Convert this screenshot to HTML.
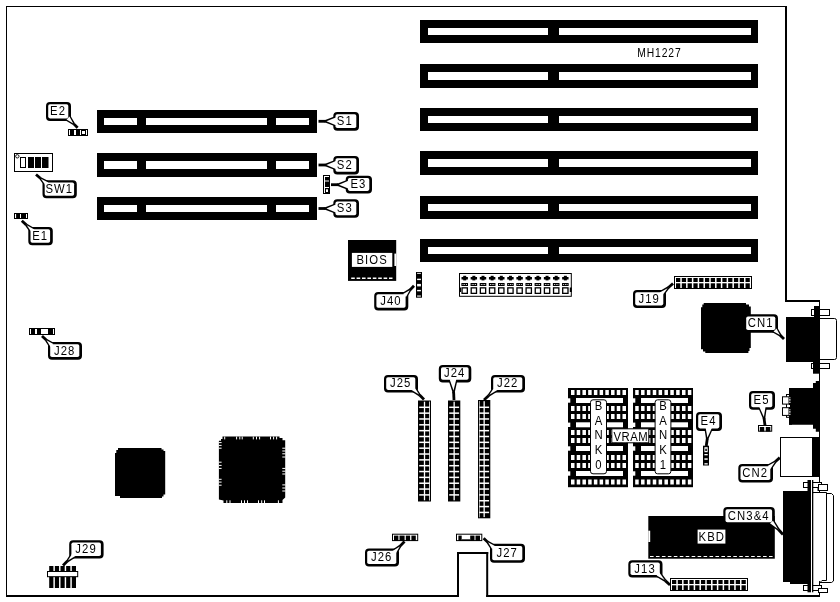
<!DOCTYPE html>
<html><head><meta charset="utf-8"><title>MH1227</title>
<style>
html,body{margin:0;padding:0;background:#fff;}
body{width:840px;height:602px;overflow:hidden;}
svg{display:block;will-change:transform;filter:grayscale(1);}
svg text{font-family:"Liberation Sans",sans-serif;fill:#000;}
</style></head><body>
<svg width="840" height="602" viewBox="0 0 840 602">
<rect x="0" y="0" width="840" height="602" fill="#fff"/>
<rect x="6.00" y="6.00" width="781.00" height="1.00" fill="#000" />
<rect x="6.00" y="6.00" width="1.00" height="591.00" fill="#000" />
<rect x="785.00" y="6.00" width="2.00" height="296.00" fill="#000" />
<rect x="785.00" y="300.00" width="35.00" height="2.00" fill="#000" />
<rect x="819.00" y="300.00" width="1.00" height="297.00" fill="#000" />
<rect x="6.00" y="595.00" width="453.00" height="2.00" fill="#000" />
<rect x="457.00" y="552.00" width="2.00" height="45.00" fill="#000" />
<rect x="457.00" y="552.00" width="31.20" height="2.00" fill="#000" />
<rect x="486.20" y="552.00" width="2.00" height="45.00" fill="#000" />
<rect x="486.20" y="595.00" width="333.80" height="2.00" fill="#000" />
<rect x="420.00" y="20.00" width="338.00" height="23.00" fill="#000" />
<rect x="428.00" y="28.00" width="120.00" height="7.00" fill="#fff" />
<rect x="559.00" y="28.00" width="192.00" height="7.00" fill="#fff" />
<rect x="420.00" y="64.00" width="338.00" height="24.00" fill="#000" />
<rect x="428.00" y="72.00" width="120.00" height="8.00" fill="#fff" />
<rect x="559.00" y="72.00" width="192.00" height="8.00" fill="#fff" />
<rect x="420.00" y="108.00" width="338.00" height="23.00" fill="#000" />
<rect x="428.00" y="116.00" width="120.00" height="7.00" fill="#fff" />
<rect x="559.00" y="116.00" width="192.00" height="7.00" fill="#fff" />
<rect x="420.00" y="151.00" width="338.00" height="24.00" fill="#000" />
<rect x="428.00" y="159.00" width="120.00" height="8.00" fill="#fff" />
<rect x="559.00" y="159.00" width="192.00" height="8.00" fill="#fff" />
<rect x="420.00" y="196.00" width="338.00" height="23.00" fill="#000" />
<rect x="428.00" y="204.00" width="120.00" height="7.00" fill="#fff" />
<rect x="559.00" y="204.00" width="192.00" height="7.00" fill="#fff" />
<rect x="420.00" y="239.00" width="338.00" height="23.00" fill="#000" />
<rect x="428.00" y="247.00" width="120.00" height="7.00" fill="#fff" />
<rect x="559.00" y="247.00" width="192.00" height="7.00" fill="#fff" />
<rect x="97.00" y="110.00" width="220.00" height="23.00" fill="#000" />
<rect x="104.00" y="118.00" width="33.00" height="7.00" fill="#fff" />
<rect x="146.00" y="118.00" width="121.00" height="7.00" fill="#fff" />
<rect x="276.00" y="118.00" width="33.00" height="7.00" fill="#fff" />
<rect x="97.00" y="153.00" width="220.00" height="24.00" fill="#000" />
<rect x="104.00" y="161.00" width="33.00" height="8.00" fill="#fff" />
<rect x="146.00" y="161.00" width="121.00" height="8.00" fill="#fff" />
<rect x="276.00" y="161.00" width="33.00" height="8.00" fill="#fff" />
<rect x="97.00" y="197.00" width="220.00" height="23.00" fill="#000" />
<rect x="104.00" y="205.00" width="33.00" height="7.00" fill="#fff" />
<rect x="146.00" y="205.00" width="121.00" height="7.00" fill="#fff" />
<rect x="276.00" y="205.00" width="33.00" height="7.00" fill="#fff" />
<text transform="translate(658.90 57.00) scale(0.82 1)" x="0.55" y="0" font-size="12.6" letter-spacing="1.1" text-anchor="middle">MH1227</text>
<polygon points="337.00,116.90 337.00,125.70 325.53,121.30" fill="#000" stroke="#000" stroke-width="2.6" stroke-linejoin="miter"/>
<line x1="325.53" y1="121.30" x2="318.50" y2="121.30" stroke="#000" stroke-width="2.8"/>
<rect x="335.50" y="114.20" width="21.30" height="14.30" rx="1.8" fill="#000" stroke="#000" stroke-width="4.4" stroke-linejoin="round"/>
<polygon points="337.00,116.90 337.00,125.70 326.45,121.30" fill="#fff"/>
<rect x="335.50" y="114.20" width="20.80" height="13.90" rx="1.8" fill="#fff"/>
<text transform="translate(344.25 125.05) scale(0.84 1)" x="0.65" y="0" font-size="13.5" letter-spacing="1.3" text-anchor="middle">S1</text>
<polygon points="337.00,160.60 337.00,169.40 325.53,165.00" fill="#000" stroke="#000" stroke-width="2.6" stroke-linejoin="miter"/>
<line x1="325.53" y1="165.00" x2="318.50" y2="165.00" stroke="#000" stroke-width="2.8"/>
<rect x="335.50" y="158.20" width="21.30" height="14.00" rx="1.8" fill="#000" stroke="#000" stroke-width="4.4" stroke-linejoin="round"/>
<polygon points="337.00,160.60 337.00,169.40 326.45,165.00" fill="#fff"/>
<rect x="335.50" y="158.20" width="20.80" height="13.60" rx="1.8" fill="#fff"/>
<text transform="translate(344.25 168.90) scale(0.84 1)" x="0.65" y="0" font-size="13.5" letter-spacing="1.3" text-anchor="middle">S2</text>
<polygon points="337.00,204.10 337.00,212.90 325.53,208.50" fill="#000" stroke="#000" stroke-width="2.6" stroke-linejoin="miter"/>
<line x1="325.53" y1="208.50" x2="318.50" y2="208.50" stroke="#000" stroke-width="2.8"/>
<rect x="335.50" y="201.50" width="21.30" height="14.10" rx="1.8" fill="#000" stroke="#000" stroke-width="4.4" stroke-linejoin="round"/>
<polygon points="337.00,204.10 337.00,212.90 326.45,208.50" fill="#fff"/>
<rect x="335.50" y="201.50" width="20.80" height="13.70" rx="1.8" fill="#fff"/>
<text transform="translate(344.25 212.25) scale(0.84 1)" x="0.65" y="0" font-size="13.5" letter-spacing="1.3" text-anchor="middle">S3</text>
<polygon points="349.50,180.30 349.50,189.10 338.03,184.70" fill="#000" stroke="#000" stroke-width="2.6" stroke-linejoin="miter"/>
<line x1="338.03" y1="184.70" x2="331.00" y2="184.70" stroke="#000" stroke-width="2.8"/>
<rect x="347.90" y="178.00" width="21.90" height="13.30" rx="1.8" fill="#000" stroke="#000" stroke-width="4.4" stroke-linejoin="round"/>
<polygon points="349.50,180.30 349.50,189.10 338.95,184.70" fill="#fff"/>
<rect x="347.90" y="178.00" width="21.40" height="12.90" rx="1.8" fill="#fff"/>
<text transform="translate(357.95 188.35) scale(0.84 1)" x="0.65" y="0" font-size="13.5" letter-spacing="1.3" text-anchor="middle">E3</text>
<rect x="323.00" y="175.00" width="7.00" height="19.00" fill="#000" />
<rect x="324.00" y="176.00" width="1.00" height="17.00" fill="#fff" />
<rect x="324.00" y="176.00" width="5.00" height="1.00" fill="#fff" />
<rect x="325.00" y="180.50" width="4.00" height="1.00" fill="#fff" />
<rect x="325.00" y="187.00" width="4.00" height="1.00" fill="#fff" />
<rect x="326.00" y="189.30" width="2.00" height="2.70" fill="#fff" />
<polygon points="66.57,119.40 69.43,116.60 73.76,123.88" fill="#000" stroke="#000" stroke-width="2.6" stroke-linejoin="miter"/>
<line x1="73.76" y1="123.88" x2="77.60" y2="127.80" stroke="#000" stroke-width="2.8"/>
<rect x="48.20" y="104.20" width="20.60" height="14.60" rx="1.8" fill="#000" stroke="#000" stroke-width="4.4" stroke-linejoin="round"/>
<polygon points="66.57,119.40 69.43,116.60 73.30,123.41" fill="#fff"/>
<rect x="48.20" y="104.20" width="20.10" height="14.20" rx="1.8" fill="#fff"/>
<text transform="translate(57.60 115.20) scale(0.84 1)" x="0.65" y="0" font-size="13.5" letter-spacing="1.3" text-anchor="middle">E2</text>
<rect x="68.00" y="129.00" width="20.00" height="7.00" fill="#000" />
<rect x="69.00" y="130.00" width="1.00" height="5.00" fill="#fff" />
<rect x="74.00" y="130.00" width="2.00" height="5.00" fill="#fff" />
<rect x="80.00" y="130.00" width="1.00" height="5.00" fill="#fff" />
<rect x="86.00" y="130.00" width="1.00" height="5.00" fill="#fff" />
<rect x="82.00" y="131.00" width="3.00" height="3.00" fill="#fff" />
<polygon points="48.31,182.49 45.69,185.51 40.40,178.30" fill="#000" stroke="#000" stroke-width="2.6" stroke-linejoin="miter"/>
<line x1="40.40" y1="178.30" x2="36.00" y2="174.50" stroke="#000" stroke-width="2.8"/>
<rect x="44.70" y="182.50" width="29.90" height="13.60" rx="1.8" fill="#000" stroke="#000" stroke-width="4.4" stroke-linejoin="round"/>
<polygon points="48.31,182.49 45.69,185.51 40.93,178.76" fill="#fff"/>
<rect x="44.70" y="182.50" width="29.40" height="13.20" rx="1.8" fill="#fff"/>
<text transform="translate(58.75 193.00) scale(0.84 1)" x="0.65" y="0" font-size="13.5" letter-spacing="1.3" text-anchor="middle">SW1</text>
<rect x="14.50" y="153.50" width="38.00" height="18.00" fill="#fff" stroke="#000" stroke-width="1"/>
<circle cx="17.3" cy="156.3" r="1.7" fill="#fff" stroke="#000" stroke-width="0.9"/>
<rect x="20.50" y="157.50" width="5.00" height="10.00" fill="#fff" stroke="#000" stroke-width="1"/>
<rect x="28.00" y="157.00" width="6.00" height="11.00" fill="#000" />
<rect x="35.00" y="157.00" width="6.00" height="11.00" fill="#000" />
<rect x="42.00" y="157.00" width="6.50" height="11.00" fill="#000" />
<polygon points="34.35,229.52 31.65,232.48 26.28,224.88" fill="#000" stroke="#000" stroke-width="2.6" stroke-linejoin="miter"/>
<line x1="26.28" y1="224.88" x2="21.80" y2="220.80" stroke="#000" stroke-width="2.8"/>
<rect x="30.50" y="229.20" width="20.10" height="13.90" rx="1.8" fill="#000" stroke="#000" stroke-width="4.4" stroke-linejoin="round"/>
<polygon points="34.35,229.52 31.65,232.48 26.82,225.37" fill="#fff"/>
<rect x="30.50" y="229.20" width="19.60" height="13.50" rx="1.8" fill="#fff"/>
<text transform="translate(39.65 239.85) scale(0.84 1)" x="0.65" y="0" font-size="13.5" letter-spacing="1.3" text-anchor="middle">E1</text>
<rect x="14.00" y="213.00" width="14.00" height="6.00" fill="#000" />
<rect x="15.00" y="214.00" width="1.10" height="4.00" fill="#fff" />
<rect x="20.00" y="214.00" width="1.00" height="4.00" fill="#fff" />
<rect x="26.00" y="214.00" width="1.00" height="4.00" fill="#fff" />
<polygon points="53.38,344.05 50.62,346.95 46.00,339.80" fill="#000" stroke="#000" stroke-width="2.6" stroke-linejoin="miter"/>
<line x1="46.00" y1="339.80" x2="42.00" y2="336.00" stroke="#000" stroke-width="2.8"/>
<rect x="50.20" y="344.20" width="29.60" height="13.30" rx="1.8" fill="#000" stroke="#000" stroke-width="4.4" stroke-linejoin="round"/>
<polygon points="53.38,344.05 50.62,346.95 46.48,340.26" fill="#fff"/>
<rect x="50.20" y="344.20" width="29.10" height="12.90" rx="1.8" fill="#fff"/>
<text transform="translate(64.10 354.55) scale(0.84 1)" x="0.65" y="0" font-size="13.5" letter-spacing="1.3" text-anchor="middle">J28</text>
<rect x="29.00" y="328.00" width="26.00" height="7.00" fill="#000" />
<rect x="30.00" y="329.00" width="1.00" height="5.00" fill="#fff" />
<rect x="35.00" y="329.00" width="2.00" height="5.00" fill="#fff" />
<rect x="41.00" y="329.00" width="7.00" height="5.00" fill="#fff" />
<rect x="53.00" y="329.00" width="1.00" height="5.00" fill="#fff" />
<rect x="348.00" y="240.00" width="48.20" height="40.90" fill="#000" />
<rect x="351.90" y="252.90" width="40.40" height="14.00" fill="#fff" />
<rect x="394.40" y="253.60" width="1.80" height="12.40" fill="#fff" />
<line x1="351.2" y1="278.3" x2="392.5" y2="278.3" stroke="#fff" stroke-width="1.4" stroke-dasharray="3.6 1.8"/>
<text transform="translate(371.60 264.20) scale(0.84 1)" x="0.65" y="0" font-size="13.5" letter-spacing="1.3" text-anchor="middle">BIOS</text>
<polygon points="405.93,296.90 403.07,294.10 410.20,289.68" fill="#000" stroke="#000" stroke-width="2.6" stroke-linejoin="miter"/>
<line x1="410.20" y1="289.68" x2="414.00" y2="285.80" stroke="#000" stroke-width="2.8"/>
<rect x="376.40" y="294.20" width="29.70" height="14.00" rx="1.8" fill="#000" stroke="#000" stroke-width="4.4" stroke-linejoin="round"/>
<polygon points="405.93,296.90 403.07,294.10 409.74,290.15" fill="#fff"/>
<rect x="376.40" y="294.20" width="29.20" height="13.60" rx="1.8" fill="#fff"/>
<text transform="translate(390.35 304.90) scale(0.84 1)" x="0.65" y="0" font-size="13.5" letter-spacing="1.3" text-anchor="middle">J40</text>
<rect x="416.00" y="272.00" width="6.00" height="25.70" fill="#000" />
<rect x="417.10" y="272.90" width="3.80" height="0.90" fill="#fff" />
<rect x="417.10" y="278.70" width="3.80" height="1.40" fill="#fff" />
<rect x="417.10" y="283.90" width="3.80" height="2.50" fill="#fff" />
<rect x="417.10" y="289.90" width="3.80" height="1.40" fill="#fff" />
<rect x="417.10" y="295.50" width="3.80" height="1.10" fill="#fff" />
<rect x="459.50" y="273.50" width="111.80" height="22.80" fill="#fff" stroke="#000" stroke-width="1"/>
<rect x="459.00" y="287.50" width="2.00" height="4.50" fill="#000" />
<rect x="569.80" y="287.50" width="2.00" height="4.50" fill="#000" />
<rect x="461.50" y="277.00" width="6.40" height="2.50" fill="#000" />
<rect x="463.20" y="275.80" width="3.00" height="4.60" fill="#000" />
<rect x="461.40" y="283.00" width="6.60" height="3.00" fill="#000" />
<rect x="462.60" y="284.00" width="0.80" height="1.00" fill="#fff" />
<rect x="464.30" y="284.00" width="0.80" height="1.00" fill="#fff" />
<rect x="466.00" y="284.00" width="0.80" height="1.00" fill="#fff" />
<rect x="462.05" y="287.85" width="5.30" height="5.50" fill="#fff" stroke="#000" stroke-width="1.3"/>
<rect x="470.65" y="277.00" width="6.40" height="2.50" fill="#000" />
<rect x="472.35" y="275.80" width="3.00" height="4.60" fill="#000" />
<rect x="470.55" y="283.00" width="6.60" height="3.00" fill="#000" />
<rect x="471.75" y="284.00" width="0.80" height="1.00" fill="#fff" />
<rect x="473.45" y="284.00" width="0.80" height="1.00" fill="#fff" />
<rect x="475.15" y="284.00" width="0.80" height="1.00" fill="#fff" />
<rect x="471.20" y="287.85" width="5.30" height="5.50" fill="#fff" stroke="#000" stroke-width="1.3"/>
<rect x="479.80" y="277.00" width="6.40" height="2.50" fill="#000" />
<rect x="481.50" y="275.80" width="3.00" height="4.60" fill="#000" />
<rect x="479.70" y="283.00" width="6.60" height="3.00" fill="#000" />
<rect x="480.90" y="284.00" width="0.80" height="1.00" fill="#fff" />
<rect x="482.60" y="284.00" width="0.80" height="1.00" fill="#fff" />
<rect x="484.30" y="284.00" width="0.80" height="1.00" fill="#fff" />
<rect x="480.35" y="287.85" width="5.30" height="5.50" fill="#fff" stroke="#000" stroke-width="1.3"/>
<rect x="488.95" y="277.00" width="6.40" height="2.50" fill="#000" />
<rect x="490.65" y="275.80" width="3.00" height="4.60" fill="#000" />
<rect x="488.85" y="283.00" width="6.60" height="3.00" fill="#000" />
<rect x="490.05" y="284.00" width="0.80" height="1.00" fill="#fff" />
<rect x="491.75" y="284.00" width="0.80" height="1.00" fill="#fff" />
<rect x="493.45" y="284.00" width="0.80" height="1.00" fill="#fff" />
<rect x="489.50" y="287.85" width="5.30" height="5.50" fill="#fff" stroke="#000" stroke-width="1.3"/>
<rect x="498.10" y="277.00" width="6.40" height="2.50" fill="#000" />
<rect x="499.80" y="275.80" width="3.00" height="4.60" fill="#000" />
<rect x="498.00" y="283.00" width="6.60" height="3.00" fill="#000" />
<rect x="499.20" y="284.00" width="0.80" height="1.00" fill="#fff" />
<rect x="500.90" y="284.00" width="0.80" height="1.00" fill="#fff" />
<rect x="502.60" y="284.00" width="0.80" height="1.00" fill="#fff" />
<rect x="498.65" y="287.85" width="5.30" height="5.50" fill="#fff" stroke="#000" stroke-width="1.3"/>
<rect x="507.25" y="277.00" width="6.40" height="2.50" fill="#000" />
<rect x="508.95" y="275.80" width="3.00" height="4.60" fill="#000" />
<rect x="507.15" y="283.00" width="6.60" height="3.00" fill="#000" />
<rect x="508.35" y="284.00" width="0.80" height="1.00" fill="#fff" />
<rect x="510.05" y="284.00" width="0.80" height="1.00" fill="#fff" />
<rect x="511.75" y="284.00" width="0.80" height="1.00" fill="#fff" />
<rect x="507.80" y="287.85" width="5.30" height="5.50" fill="#fff" stroke="#000" stroke-width="1.3"/>
<rect x="516.40" y="277.00" width="6.40" height="2.50" fill="#000" />
<rect x="518.10" y="275.80" width="3.00" height="4.60" fill="#000" />
<rect x="516.30" y="283.00" width="6.60" height="3.00" fill="#000" />
<rect x="517.50" y="284.00" width="0.80" height="1.00" fill="#fff" />
<rect x="519.20" y="284.00" width="0.80" height="1.00" fill="#fff" />
<rect x="520.90" y="284.00" width="0.80" height="1.00" fill="#fff" />
<rect x="516.95" y="287.85" width="5.30" height="5.50" fill="#fff" stroke="#000" stroke-width="1.3"/>
<rect x="525.55" y="277.00" width="6.40" height="2.50" fill="#000" />
<rect x="527.25" y="275.80" width="3.00" height="4.60" fill="#000" />
<rect x="525.45" y="283.00" width="6.60" height="3.00" fill="#000" />
<rect x="526.65" y="284.00" width="0.80" height="1.00" fill="#fff" />
<rect x="528.35" y="284.00" width="0.80" height="1.00" fill="#fff" />
<rect x="530.05" y="284.00" width="0.80" height="1.00" fill="#fff" />
<rect x="526.10" y="287.85" width="5.30" height="5.50" fill="#fff" stroke="#000" stroke-width="1.3"/>
<rect x="534.70" y="277.00" width="6.40" height="2.50" fill="#000" />
<rect x="536.40" y="275.80" width="3.00" height="4.60" fill="#000" />
<rect x="534.60" y="283.00" width="6.60" height="3.00" fill="#000" />
<rect x="535.80" y="284.00" width="0.80" height="1.00" fill="#fff" />
<rect x="537.50" y="284.00" width="0.80" height="1.00" fill="#fff" />
<rect x="539.20" y="284.00" width="0.80" height="1.00" fill="#fff" />
<rect x="535.25" y="287.85" width="5.30" height="5.50" fill="#fff" stroke="#000" stroke-width="1.3"/>
<rect x="543.85" y="277.00" width="6.40" height="2.50" fill="#000" />
<rect x="545.55" y="275.80" width="3.00" height="4.60" fill="#000" />
<rect x="543.75" y="283.00" width="6.60" height="3.00" fill="#000" />
<rect x="544.95" y="284.00" width="0.80" height="1.00" fill="#fff" />
<rect x="546.65" y="284.00" width="0.80" height="1.00" fill="#fff" />
<rect x="548.35" y="284.00" width="0.80" height="1.00" fill="#fff" />
<rect x="544.40" y="287.85" width="5.30" height="5.50" fill="#fff" stroke="#000" stroke-width="1.3"/>
<rect x="553.00" y="277.00" width="6.40" height="2.50" fill="#000" />
<rect x="554.70" y="275.80" width="3.00" height="4.60" fill="#000" />
<rect x="552.90" y="283.00" width="6.60" height="3.00" fill="#000" />
<rect x="554.10" y="284.00" width="0.80" height="1.00" fill="#fff" />
<rect x="555.80" y="284.00" width="0.80" height="1.00" fill="#fff" />
<rect x="557.50" y="284.00" width="0.80" height="1.00" fill="#fff" />
<rect x="553.55" y="287.85" width="5.30" height="5.50" fill="#fff" stroke="#000" stroke-width="1.3"/>
<rect x="562.15" y="277.00" width="6.40" height="2.50" fill="#000" />
<rect x="563.85" y="275.80" width="3.00" height="4.60" fill="#000" />
<rect x="562.05" y="283.00" width="6.60" height="3.00" fill="#000" />
<rect x="563.25" y="284.00" width="0.80" height="1.00" fill="#fff" />
<rect x="564.95" y="284.00" width="0.80" height="1.00" fill="#fff" />
<rect x="566.65" y="284.00" width="0.80" height="1.00" fill="#fff" />
<rect x="562.70" y="287.85" width="5.30" height="5.50" fill="#fff" stroke="#000" stroke-width="1.3"/>
<polygon points="662.32,295.51 659.68,292.49 668.20,287.70" fill="#000" stroke="#000" stroke-width="2.6" stroke-linejoin="miter"/>
<line x1="668.20" y1="287.70" x2="673.00" y2="283.50" stroke="#000" stroke-width="2.8"/>
<rect x="635.20" y="292.20" width="28.60" height="13.60" rx="1.8" fill="#000" stroke="#000" stroke-width="4.4" stroke-linejoin="round"/>
<polygon points="662.32,295.51 659.68,292.49 667.62,288.20" fill="#fff"/>
<rect x="635.20" y="292.20" width="28.10" height="13.20" rx="1.8" fill="#fff"/>
<text transform="translate(648.60 302.70) scale(0.84 1)" x="0.65" y="0" font-size="13.5" letter-spacing="1.3" text-anchor="middle">J19</text>
<rect x="674.50" y="276.50" width="77.00" height="12.00" fill="#fff" stroke="#000" stroke-width="1"/>
<rect x="676.00" y="278.00" width="4.29" height="4.00" fill="#000" />
<rect x="676.00" y="283.30" width="4.29" height="5.70" fill="#000" />
<rect x="681.79" y="278.00" width="4.29" height="4.00" fill="#000" />
<rect x="681.79" y="283.30" width="4.29" height="5.70" fill="#000" />
<rect x="687.58" y="278.00" width="4.29" height="4.00" fill="#000" />
<rect x="687.58" y="283.30" width="4.29" height="5.70" fill="#000" />
<rect x="693.38" y="278.00" width="4.29" height="4.00" fill="#000" />
<rect x="693.38" y="283.30" width="4.29" height="5.70" fill="#000" />
<rect x="699.17" y="278.00" width="4.29" height="4.00" fill="#000" />
<rect x="699.17" y="283.30" width="4.29" height="5.70" fill="#000" />
<rect x="704.96" y="278.00" width="4.29" height="4.00" fill="#000" />
<rect x="704.96" y="283.30" width="4.29" height="5.70" fill="#000" />
<rect x="710.75" y="278.00" width="4.29" height="4.00" fill="#000" />
<rect x="710.75" y="283.30" width="4.29" height="5.70" fill="#000" />
<rect x="716.55" y="278.00" width="4.29" height="4.00" fill="#000" />
<rect x="716.55" y="283.30" width="4.29" height="5.70" fill="#000" />
<rect x="722.34" y="278.00" width="4.29" height="4.00" fill="#000" />
<rect x="722.34" y="283.30" width="4.29" height="5.70" fill="#000" />
<rect x="728.13" y="278.00" width="4.29" height="4.00" fill="#000" />
<rect x="728.13" y="283.30" width="4.29" height="5.70" fill="#000" />
<rect x="733.92" y="278.00" width="4.29" height="4.00" fill="#000" />
<rect x="733.92" y="283.30" width="4.29" height="5.70" fill="#000" />
<rect x="739.72" y="278.00" width="4.29" height="4.00" fill="#000" />
<rect x="739.72" y="283.30" width="4.29" height="5.70" fill="#000" />
<rect x="745.51" y="278.00" width="4.29" height="4.00" fill="#000" />
<rect x="745.51" y="283.30" width="4.29" height="5.70" fill="#000" />
<polygon points="656.65,575.47 659.35,572.53 665.20,580.60" fill="#000" stroke="#000" stroke-width="2.6" stroke-linejoin="miter"/>
<line x1="665.20" y1="580.60" x2="670.00" y2="585.00" stroke="#000" stroke-width="2.8"/>
<rect x="630.50" y="562.50" width="29.80" height="12.90" rx="1.8" fill="#000" stroke="#000" stroke-width="4.4" stroke-linejoin="round"/>
<polygon points="656.65,575.47 659.35,572.53 664.62,580.07" fill="#fff"/>
<rect x="630.50" y="562.50" width="29.30" height="12.50" rx="1.8" fill="#fff"/>
<text transform="translate(644.50 572.65) scale(0.84 1)" x="0.65" y="0" font-size="13.5" letter-spacing="1.3" text-anchor="middle">J13</text>
<rect x="670.50" y="578.50" width="77.00" height="12.00" fill="#fff" stroke="#000" stroke-width="1"/>
<rect x="672.00" y="580.00" width="4.29" height="4.00" fill="#000" />
<rect x="672.00" y="585.30" width="4.29" height="5.70" fill="#000" />
<rect x="677.79" y="580.00" width="4.29" height="4.00" fill="#000" />
<rect x="677.79" y="585.30" width="4.29" height="5.70" fill="#000" />
<rect x="683.58" y="580.00" width="4.29" height="4.00" fill="#000" />
<rect x="683.58" y="585.30" width="4.29" height="5.70" fill="#000" />
<rect x="689.38" y="580.00" width="4.29" height="4.00" fill="#000" />
<rect x="689.38" y="585.30" width="4.29" height="5.70" fill="#000" />
<rect x="695.17" y="580.00" width="4.29" height="4.00" fill="#000" />
<rect x="695.17" y="585.30" width="4.29" height="5.70" fill="#000" />
<rect x="700.96" y="580.00" width="4.29" height="4.00" fill="#000" />
<rect x="700.96" y="585.30" width="4.29" height="5.70" fill="#000" />
<rect x="706.75" y="580.00" width="4.29" height="4.00" fill="#000" />
<rect x="706.75" y="585.30" width="4.29" height="5.70" fill="#000" />
<rect x="712.55" y="580.00" width="4.29" height="4.00" fill="#000" />
<rect x="712.55" y="585.30" width="4.29" height="5.70" fill="#000" />
<rect x="718.34" y="580.00" width="4.29" height="4.00" fill="#000" />
<rect x="718.34" y="585.30" width="4.29" height="5.70" fill="#000" />
<rect x="724.13" y="580.00" width="4.29" height="4.00" fill="#000" />
<rect x="724.13" y="585.30" width="4.29" height="5.70" fill="#000" />
<rect x="729.92" y="580.00" width="4.29" height="4.00" fill="#000" />
<rect x="729.92" y="585.30" width="4.29" height="5.70" fill="#000" />
<rect x="735.72" y="580.00" width="4.29" height="4.00" fill="#000" />
<rect x="735.72" y="585.30" width="4.29" height="5.70" fill="#000" />
<rect x="741.51" y="580.00" width="4.29" height="4.00" fill="#000" />
<rect x="741.51" y="585.30" width="4.29" height="5.70" fill="#000" />
<polygon points="703.7,303 746,303 746,304.5 749,304.5 749,306.6 750.8,306.6 750.8,348 749.5,348 749.5,351 748.4,351 748.4,353 705.3,353 705.3,351.5 703,351.5 703,349.2 701,349.2 701,307.2 702.3,307.2 702.3,304.5 703.7,304.5" fill="#000"/>
<rect x="786.00" y="317.00" width="29.00" height="45.00" fill="#000" />
<rect x="814.00" y="306.00" width="6.00" height="34.00" fill="#000" />
<rect x="813.00" y="340.00" width="7.00" height="33.70" fill="#000" />
<path d="M820 318.5 H834.5 Q836.5 318.5 836.5 320.5 V357.5 Q836.5 359.5 834.5 359.5 H820" fill="#fff" stroke="#000" stroke-width="1"/>
<rect x="811.50" y="309.50" width="18.00" height="6.00" fill="#fff" stroke="#000" stroke-width="1"/>
<rect x="814.00" y="309.00" width="6.00" height="7.00" fill="#000" />
<rect x="811.50" y="363.50" width="18.00" height="5.00" fill="#fff" stroke="#000" stroke-width="1"/>
<rect x="813.00" y="363.00" width="7.00" height="6.00" fill="#000" />
<polygon points="773.59,331.41 776.41,328.59 780.40,335.40" fill="#000" stroke="#000" stroke-width="2.6" stroke-linejoin="miter"/>
<line x1="780.40" y1="335.40" x2="784.00" y2="339.00" stroke="#000" stroke-width="2.8"/>
<rect x="746.20" y="316.40" width="29.60" height="14.10" rx="1.8" fill="#000" stroke="#000" stroke-width="4.4" stroke-linejoin="round"/>
<polygon points="773.59,331.41 776.41,328.59 779.97,334.97" fill="#fff"/>
<rect x="746.20" y="316.40" width="29.10" height="13.70" rx="1.8" fill="#fff"/>
<text transform="translate(760.10 327.15) scale(0.84 1)" x="0.65" y="0" font-size="13.5" letter-spacing="1.3" text-anchor="middle">CN1</text>
<polygon points="789,388 813,388 813,383 815.8,383 815.8,381 820,381 820,431.7 815.8,431.7 815.8,428.7 813,428.7 813,424.7 789,424.7" fill="#000"/>
<rect x="786.50" y="394.50" width="3.00" height="22.80" fill="#fff" stroke="#000" stroke-width="1"/>
<rect x="782.50" y="396.80" width="6.50" height="7.30" fill="#fff" stroke="#000" stroke-width="1"/>
<rect x="782.50" y="407.70" width="6.50" height="7.70" fill="#fff" stroke="#000" stroke-width="1"/>
<rect x="789.00" y="388.00" width="3.00" height="36.70" fill="#000" />
<rect x="789.00" y="397.50" width="1.60" height="0.70" fill="#fff" />
<rect x="789.00" y="399.00" width="1.60" height="0.70" fill="#fff" />
<rect x="789.00" y="400.50" width="1.60" height="0.70" fill="#fff" />
<rect x="789.00" y="402.00" width="1.60" height="0.70" fill="#fff" />
<rect x="789.00" y="409.50" width="1.60" height="0.70" fill="#fff" />
<rect x="789.00" y="411.00" width="1.60" height="0.70" fill="#fff" />
<rect x="789.00" y="412.50" width="1.60" height="0.70" fill="#fff" />
<rect x="789.00" y="414.00" width="1.60" height="0.70" fill="#fff" />
<rect x="789.00" y="405.00" width="1.00" height="2.00" fill="#fff" />
<polygon points="759.33,406.92 765.67,406.08 764.00,417.90" fill="#000" stroke="#000" stroke-width="2.6" stroke-linejoin="miter"/>
<line x1="764.00" y1="417.90" x2="765.00" y2="425.50" stroke="#000" stroke-width="2.8"/>
<rect x="751.20" y="393.20" width="21.60" height="14.40" rx="1.8" fill="#000" stroke="#000" stroke-width="4.4" stroke-linejoin="round"/>
<polygon points="759.33,406.92 765.67,406.08 763.88,416.99" fill="#fff"/>
<rect x="751.20" y="393.20" width="21.10" height="14.00" rx="1.8" fill="#fff"/>
<text transform="translate(761.10 404.10) scale(0.84 1)" x="0.65" y="0" font-size="13.5" letter-spacing="1.3" text-anchor="middle">E5</text>
<rect x="758.50" y="425.50" width="13.20" height="5.70" fill="#fff" stroke="#000" stroke-width="1"/>
<rect x="759.80" y="427.00" width="4.40" height="4.60" fill="#000" />
<rect x="765.80" y="427.00" width="4.50" height="4.60" fill="#000" />
<rect x="812.00" y="437.00" width="8.00" height="40.00" fill="#000" />
<rect x="780.50" y="437.50" width="32.00" height="39.00" fill="#fff" stroke="#000" stroke-width="1"/>
<polygon points="770.35,468.97 767.65,466.03 775.48,461.56" fill="#000" stroke="#000" stroke-width="2.6" stroke-linejoin="miter"/>
<line x1="775.48" y1="461.56" x2="779.80" y2="457.60" stroke="#000" stroke-width="2.8"/>
<rect x="740.50" y="466.20" width="30.30" height="14.20" rx="1.8" fill="#000" stroke="#000" stroke-width="4.4" stroke-linejoin="round"/>
<polygon points="770.35,468.97 767.65,466.03 774.96,462.04" fill="#fff"/>
<rect x="740.50" y="466.20" width="29.80" height="13.80" rx="1.8" fill="#fff"/>
<text transform="translate(754.75 477.00) scale(0.84 1)" x="0.65" y="0" font-size="13.5" letter-spacing="1.3" text-anchor="middle">CN2</text>
<rect x="813.30" y="494.00" width="12.70" height="87.00" fill="#fff" />
<path d="M813 493.5 H831.5 L833.5 495.5 V581 L831.5 582.5 H820" fill="#fff" stroke="#000" stroke-width="1"/>
<path d="M813 492.5 H826.5 V580.5 H822 L820.5 582" fill="#fff" stroke="#000" stroke-width="1"/>
<rect x="803.50" y="482.50" width="18.00" height="5.00" fill="#fff" stroke="#000" stroke-width="1"/>
<rect x="818.50" y="484.50" width="9.00" height="6.00" fill="#fff" stroke="#000" stroke-width="1"/>
<rect x="803.50" y="585.50" width="18.00" height="5.00" fill="#fff" stroke="#000" stroke-width="1"/>
<rect x="818.50" y="588.50" width="9.00" height="4.00" fill="#fff" stroke="#000" stroke-width="1"/>
<rect x="817.50" y="487.50" width="1.50" height="3.50" fill="#000" />
<rect x="783.00" y="491.00" width="28.00" height="91.00" fill="#000" />
<rect x="790.00" y="581.00" width="21.00" height="3.00" fill="#000" />
<rect x="807.50" y="480.00" width="3.50" height="112.30" fill="#000" />
<rect x="812.00" y="480.00" width="1.30" height="112.30" fill="#000" />
<rect x="811.00" y="480.00" width="1.00" height="112.30" fill="#fff" />
<rect x="648.30" y="516.00" width="126.50" height="42.70" fill="#000" />
<rect x="648.30" y="530.70" width="1.90" height="11.30" fill="#fff" />
<line x1="650" y1="556.5" x2="773" y2="556.5" stroke="#fff" stroke-width="1" stroke-dasharray="3.6 2.35"/>
<rect x="697.60" y="529.60" width="27.80" height="14.00" fill="#fff" />
<text transform="translate(711.30 541.20) scale(0.84 1)" x="0.65" y="0" font-size="13.5" letter-spacing="1.3" text-anchor="middle">KBD</text>
<polygon points="770.03,523.35 772.97,520.65 778.40,529.50" fill="#000" stroke="#000" stroke-width="2.6" stroke-linejoin="miter"/>
<line x1="778.40" y1="529.50" x2="783.00" y2="534.50" stroke="#000" stroke-width="2.8"/>
<rect x="725.50" y="509.20" width="47.10" height="13.40" rx="1.8" fill="#000" stroke="#000" stroke-width="4.4" stroke-linejoin="round"/>
<polygon points="770.03,523.35 772.97,520.65 777.85,528.90" fill="#fff"/>
<rect x="725.50" y="509.20" width="46.60" height="13.00" rx="1.8" fill="#fff"/>
<text transform="translate(748.15 519.60) scale(0.84 1)" x="0.65" y="0" font-size="13.5" letter-spacing="1.3" text-anchor="middle">CN3&amp;4</text>
<rect x="568.00" y="388.00" width="60.00" height="99.20" fill="#000" />
<rect x="571.00" y="390.00" width="3.50" height="5.00" fill="#fff" />
<rect x="576.72" y="390.00" width="3.50" height="5.00" fill="#fff" />
<rect x="582.44" y="390.00" width="3.50" height="5.00" fill="#fff" />
<rect x="588.16" y="390.00" width="3.50" height="5.00" fill="#fff" />
<rect x="593.88" y="390.00" width="3.50" height="5.00" fill="#fff" />
<rect x="599.60" y="390.00" width="3.50" height="5.00" fill="#fff" />
<rect x="605.32" y="390.00" width="3.50" height="5.00" fill="#fff" />
<rect x="611.04" y="390.00" width="3.50" height="5.00" fill="#fff" />
<rect x="616.76" y="390.00" width="3.50" height="5.00" fill="#fff" />
<rect x="622.48" y="390.00" width="3.50" height="5.00" fill="#fff" />
<rect x="571.00" y="406.00" width="3.50" height="5.00" fill="#fff" />
<rect x="576.72" y="406.00" width="3.50" height="5.00" fill="#fff" />
<rect x="582.44" y="406.00" width="3.50" height="5.00" fill="#fff" />
<rect x="588.16" y="406.00" width="3.50" height="5.00" fill="#fff" />
<rect x="593.88" y="406.00" width="3.50" height="5.00" fill="#fff" />
<rect x="599.60" y="406.00" width="3.50" height="5.00" fill="#fff" />
<rect x="605.32" y="406.00" width="3.50" height="5.00" fill="#fff" />
<rect x="611.04" y="406.00" width="3.50" height="5.00" fill="#fff" />
<rect x="616.76" y="406.00" width="3.50" height="5.00" fill="#fff" />
<rect x="622.48" y="406.00" width="3.50" height="5.00" fill="#fff" />
<rect x="571.00" y="414.00" width="3.50" height="5.00" fill="#fff" />
<rect x="576.72" y="414.00" width="3.50" height="5.00" fill="#fff" />
<rect x="582.44" y="414.00" width="3.50" height="5.00" fill="#fff" />
<rect x="588.16" y="414.00" width="3.50" height="5.00" fill="#fff" />
<rect x="593.88" y="414.00" width="3.50" height="5.00" fill="#fff" />
<rect x="599.60" y="414.00" width="3.50" height="5.00" fill="#fff" />
<rect x="605.32" y="414.00" width="3.50" height="5.00" fill="#fff" />
<rect x="611.04" y="414.00" width="3.50" height="5.00" fill="#fff" />
<rect x="616.76" y="414.00" width="3.50" height="5.00" fill="#fff" />
<rect x="622.48" y="414.00" width="3.50" height="5.00" fill="#fff" />
<rect x="571.00" y="430.00" width="3.50" height="5.00" fill="#fff" />
<rect x="576.72" y="430.00" width="3.50" height="5.00" fill="#fff" />
<rect x="582.44" y="430.00" width="3.50" height="5.00" fill="#fff" />
<rect x="588.16" y="430.00" width="3.50" height="5.00" fill="#fff" />
<rect x="593.88" y="430.00" width="3.50" height="5.00" fill="#fff" />
<rect x="599.60" y="430.00" width="3.50" height="5.00" fill="#fff" />
<rect x="605.32" y="430.00" width="3.50" height="5.00" fill="#fff" />
<rect x="611.04" y="430.00" width="3.50" height="5.00" fill="#fff" />
<rect x="616.76" y="430.00" width="3.50" height="5.00" fill="#fff" />
<rect x="622.48" y="430.00" width="3.50" height="5.00" fill="#fff" />
<rect x="571.00" y="438.00" width="3.50" height="5.00" fill="#fff" />
<rect x="576.72" y="438.00" width="3.50" height="5.00" fill="#fff" />
<rect x="582.44" y="438.00" width="3.50" height="5.00" fill="#fff" />
<rect x="588.16" y="438.00" width="3.50" height="5.00" fill="#fff" />
<rect x="593.88" y="438.00" width="3.50" height="5.00" fill="#fff" />
<rect x="599.60" y="438.00" width="3.50" height="5.00" fill="#fff" />
<rect x="605.32" y="438.00" width="3.50" height="5.00" fill="#fff" />
<rect x="611.04" y="438.00" width="3.50" height="5.00" fill="#fff" />
<rect x="616.76" y="438.00" width="3.50" height="5.00" fill="#fff" />
<rect x="622.48" y="438.00" width="3.50" height="5.00" fill="#fff" />
<rect x="571.00" y="455.00" width="3.50" height="5.00" fill="#fff" />
<rect x="576.72" y="455.00" width="3.50" height="5.00" fill="#fff" />
<rect x="582.44" y="455.00" width="3.50" height="5.00" fill="#fff" />
<rect x="588.16" y="455.00" width="3.50" height="5.00" fill="#fff" />
<rect x="593.88" y="455.00" width="3.50" height="5.00" fill="#fff" />
<rect x="599.60" y="455.00" width="3.50" height="5.00" fill="#fff" />
<rect x="605.32" y="455.00" width="3.50" height="5.00" fill="#fff" />
<rect x="611.04" y="455.00" width="3.50" height="5.00" fill="#fff" />
<rect x="616.76" y="455.00" width="3.50" height="5.00" fill="#fff" />
<rect x="622.48" y="455.00" width="3.50" height="5.00" fill="#fff" />
<rect x="571.00" y="463.00" width="3.50" height="5.00" fill="#fff" />
<rect x="576.72" y="463.00" width="3.50" height="5.00" fill="#fff" />
<rect x="582.44" y="463.00" width="3.50" height="5.00" fill="#fff" />
<rect x="588.16" y="463.00" width="3.50" height="5.00" fill="#fff" />
<rect x="593.88" y="463.00" width="3.50" height="5.00" fill="#fff" />
<rect x="599.60" y="463.00" width="3.50" height="5.00" fill="#fff" />
<rect x="605.32" y="463.00" width="3.50" height="5.00" fill="#fff" />
<rect x="611.04" y="463.00" width="3.50" height="5.00" fill="#fff" />
<rect x="616.76" y="463.00" width="3.50" height="5.00" fill="#fff" />
<rect x="622.48" y="463.00" width="3.50" height="5.00" fill="#fff" />
<rect x="571.00" y="479.50" width="3.50" height="5.00" fill="#fff" />
<rect x="576.72" y="479.50" width="3.50" height="5.00" fill="#fff" />
<rect x="582.44" y="479.50" width="3.50" height="5.00" fill="#fff" />
<rect x="588.16" y="479.50" width="3.50" height="5.00" fill="#fff" />
<rect x="593.88" y="479.50" width="3.50" height="5.00" fill="#fff" />
<rect x="599.60" y="479.50" width="3.50" height="5.00" fill="#fff" />
<rect x="605.32" y="479.50" width="3.50" height="5.00" fill="#fff" />
<rect x="611.04" y="479.50" width="3.50" height="5.00" fill="#fff" />
<rect x="616.76" y="479.50" width="3.50" height="5.00" fill="#fff" />
<rect x="622.48" y="479.50" width="3.50" height="5.00" fill="#fff" />
<rect x="576.00" y="398.00" width="47.00" height="5.00" fill="#fff" />
<rect x="568.00" y="398.30" width="2.30" height="4.40" fill="#fff" />
<rect x="576.00" y="422.30" width="47.00" height="5.00" fill="#fff" />
<rect x="568.00" y="422.60" width="2.30" height="4.40" fill="#fff" />
<rect x="576.00" y="446.00" width="47.00" height="5.00" fill="#fff" />
<rect x="568.00" y="446.30" width="2.30" height="4.40" fill="#fff" />
<rect x="576.00" y="471.00" width="47.00" height="5.00" fill="#fff" />
<rect x="568.00" y="471.30" width="2.30" height="4.40" fill="#fff" />
<rect x="633.00" y="388.00" width="60.00" height="99.20" fill="#000" />
<rect x="635.20" y="390.00" width="3.50" height="5.00" fill="#fff" />
<rect x="641.05" y="390.00" width="3.50" height="5.00" fill="#fff" />
<rect x="646.90" y="390.00" width="3.50" height="5.00" fill="#fff" />
<rect x="652.75" y="390.00" width="3.50" height="5.00" fill="#fff" />
<rect x="658.60" y="390.00" width="3.50" height="5.00" fill="#fff" />
<rect x="664.45" y="390.00" width="3.50" height="5.00" fill="#fff" />
<rect x="670.30" y="390.00" width="3.50" height="5.00" fill="#fff" />
<rect x="676.15" y="390.00" width="3.50" height="5.00" fill="#fff" />
<rect x="682.00" y="390.00" width="3.50" height="5.00" fill="#fff" />
<rect x="687.85" y="390.00" width="3.50" height="5.00" fill="#fff" />
<rect x="635.20" y="406.00" width="3.50" height="5.00" fill="#fff" />
<rect x="641.05" y="406.00" width="3.50" height="5.00" fill="#fff" />
<rect x="646.90" y="406.00" width="3.50" height="5.00" fill="#fff" />
<rect x="652.75" y="406.00" width="3.50" height="5.00" fill="#fff" />
<rect x="658.60" y="406.00" width="3.50" height="5.00" fill="#fff" />
<rect x="664.45" y="406.00" width="3.50" height="5.00" fill="#fff" />
<rect x="670.30" y="406.00" width="3.50" height="5.00" fill="#fff" />
<rect x="676.15" y="406.00" width="3.50" height="5.00" fill="#fff" />
<rect x="682.00" y="406.00" width="3.50" height="5.00" fill="#fff" />
<rect x="687.85" y="406.00" width="3.50" height="5.00" fill="#fff" />
<rect x="635.20" y="414.00" width="3.50" height="5.00" fill="#fff" />
<rect x="641.05" y="414.00" width="3.50" height="5.00" fill="#fff" />
<rect x="646.90" y="414.00" width="3.50" height="5.00" fill="#fff" />
<rect x="652.75" y="414.00" width="3.50" height="5.00" fill="#fff" />
<rect x="658.60" y="414.00" width="3.50" height="5.00" fill="#fff" />
<rect x="664.45" y="414.00" width="3.50" height="5.00" fill="#fff" />
<rect x="670.30" y="414.00" width="3.50" height="5.00" fill="#fff" />
<rect x="676.15" y="414.00" width="3.50" height="5.00" fill="#fff" />
<rect x="682.00" y="414.00" width="3.50" height="5.00" fill="#fff" />
<rect x="687.85" y="414.00" width="3.50" height="5.00" fill="#fff" />
<rect x="635.20" y="430.00" width="3.50" height="5.00" fill="#fff" />
<rect x="641.05" y="430.00" width="3.50" height="5.00" fill="#fff" />
<rect x="646.90" y="430.00" width="3.50" height="5.00" fill="#fff" />
<rect x="652.75" y="430.00" width="3.50" height="5.00" fill="#fff" />
<rect x="658.60" y="430.00" width="3.50" height="5.00" fill="#fff" />
<rect x="664.45" y="430.00" width="3.50" height="5.00" fill="#fff" />
<rect x="670.30" y="430.00" width="3.50" height="5.00" fill="#fff" />
<rect x="676.15" y="430.00" width="3.50" height="5.00" fill="#fff" />
<rect x="682.00" y="430.00" width="3.50" height="5.00" fill="#fff" />
<rect x="687.85" y="430.00" width="3.50" height="5.00" fill="#fff" />
<rect x="635.20" y="438.00" width="3.50" height="5.00" fill="#fff" />
<rect x="641.05" y="438.00" width="3.50" height="5.00" fill="#fff" />
<rect x="646.90" y="438.00" width="3.50" height="5.00" fill="#fff" />
<rect x="652.75" y="438.00" width="3.50" height="5.00" fill="#fff" />
<rect x="658.60" y="438.00" width="3.50" height="5.00" fill="#fff" />
<rect x="664.45" y="438.00" width="3.50" height="5.00" fill="#fff" />
<rect x="670.30" y="438.00" width="3.50" height="5.00" fill="#fff" />
<rect x="676.15" y="438.00" width="3.50" height="5.00" fill="#fff" />
<rect x="682.00" y="438.00" width="3.50" height="5.00" fill="#fff" />
<rect x="687.85" y="438.00" width="3.50" height="5.00" fill="#fff" />
<rect x="635.20" y="455.00" width="3.50" height="5.00" fill="#fff" />
<rect x="641.05" y="455.00" width="3.50" height="5.00" fill="#fff" />
<rect x="646.90" y="455.00" width="3.50" height="5.00" fill="#fff" />
<rect x="652.75" y="455.00" width="3.50" height="5.00" fill="#fff" />
<rect x="658.60" y="455.00" width="3.50" height="5.00" fill="#fff" />
<rect x="664.45" y="455.00" width="3.50" height="5.00" fill="#fff" />
<rect x="670.30" y="455.00" width="3.50" height="5.00" fill="#fff" />
<rect x="676.15" y="455.00" width="3.50" height="5.00" fill="#fff" />
<rect x="682.00" y="455.00" width="3.50" height="5.00" fill="#fff" />
<rect x="687.85" y="455.00" width="3.50" height="5.00" fill="#fff" />
<rect x="635.20" y="463.00" width="3.50" height="5.00" fill="#fff" />
<rect x="641.05" y="463.00" width="3.50" height="5.00" fill="#fff" />
<rect x="646.90" y="463.00" width="3.50" height="5.00" fill="#fff" />
<rect x="652.75" y="463.00" width="3.50" height="5.00" fill="#fff" />
<rect x="658.60" y="463.00" width="3.50" height="5.00" fill="#fff" />
<rect x="664.45" y="463.00" width="3.50" height="5.00" fill="#fff" />
<rect x="670.30" y="463.00" width="3.50" height="5.00" fill="#fff" />
<rect x="676.15" y="463.00" width="3.50" height="5.00" fill="#fff" />
<rect x="682.00" y="463.00" width="3.50" height="5.00" fill="#fff" />
<rect x="687.85" y="463.00" width="3.50" height="5.00" fill="#fff" />
<rect x="635.20" y="479.50" width="3.50" height="5.00" fill="#fff" />
<rect x="641.05" y="479.50" width="3.50" height="5.00" fill="#fff" />
<rect x="646.90" y="479.50" width="3.50" height="5.00" fill="#fff" />
<rect x="652.75" y="479.50" width="3.50" height="5.00" fill="#fff" />
<rect x="658.60" y="479.50" width="3.50" height="5.00" fill="#fff" />
<rect x="664.45" y="479.50" width="3.50" height="5.00" fill="#fff" />
<rect x="670.30" y="479.50" width="3.50" height="5.00" fill="#fff" />
<rect x="676.15" y="479.50" width="3.50" height="5.00" fill="#fff" />
<rect x="682.00" y="479.50" width="3.50" height="5.00" fill="#fff" />
<rect x="687.85" y="479.50" width="3.50" height="5.00" fill="#fff" />
<rect x="641.00" y="398.00" width="47.00" height="5.00" fill="#fff" />
<rect x="633.00" y="398.30" width="2.30" height="4.40" fill="#fff" />
<rect x="641.00" y="422.30" width="47.00" height="5.00" fill="#fff" />
<rect x="633.00" y="422.60" width="2.30" height="4.40" fill="#fff" />
<rect x="641.00" y="446.00" width="47.00" height="5.00" fill="#fff" />
<rect x="633.00" y="446.30" width="2.30" height="4.40" fill="#fff" />
<rect x="641.00" y="471.00" width="47.00" height="5.00" fill="#fff" />
<rect x="633.00" y="471.30" width="2.30" height="4.40" fill="#fff" />
<rect x="590.5" y="399.8" width="16" height="74.0" rx="2.5" fill="#fff" stroke="#000" stroke-width="1"/>
<text transform="translate(598.50 409.70) scale(0.84 1)" x="0.00" y="0" font-size="13.5" letter-spacing="0" text-anchor="middle">B</text>
<text transform="translate(598.50 424.50) scale(0.84 1)" x="0.00" y="0" font-size="13.5" letter-spacing="0" text-anchor="middle">A</text>
<text transform="translate(598.50 439.30) scale(0.84 1)" x="0.00" y="0" font-size="13.5" letter-spacing="0" text-anchor="middle">N</text>
<text transform="translate(598.50 454.10) scale(0.84 1)" x="0.00" y="0" font-size="13.5" letter-spacing="0" text-anchor="middle">K</text>
<text transform="translate(598.50 468.90) scale(0.84 1)" x="0.00" y="0" font-size="13.5" letter-spacing="0" text-anchor="middle">0</text>
<rect x="655.1" y="399.8" width="15.799999999999955" height="74.0" rx="2.5" fill="#fff" stroke="#000" stroke-width="1"/>
<text transform="translate(663.00 409.70) scale(0.84 1)" x="0.00" y="0" font-size="13.5" letter-spacing="0" text-anchor="middle">B</text>
<text transform="translate(663.00 424.50) scale(0.84 1)" x="0.00" y="0" font-size="13.5" letter-spacing="0" text-anchor="middle">A</text>
<text transform="translate(663.00 439.30) scale(0.84 1)" x="0.00" y="0" font-size="13.5" letter-spacing="0" text-anchor="middle">N</text>
<text transform="translate(663.00 454.10) scale(0.84 1)" x="0.00" y="0" font-size="13.5" letter-spacing="0" text-anchor="middle">K</text>
<text transform="translate(663.00 468.90) scale(0.84 1)" x="0.00" y="0" font-size="13.5" letter-spacing="0" text-anchor="middle">1</text>
<rect x="611.80" y="428.80" width="37.00" height="14.00" fill="#fff" stroke="#000" stroke-width="1"/>
<text transform="translate(630.50 440.70) scale(0.84 1)" x="0.30" y="0" font-size="13.5" letter-spacing="0.6" text-anchor="middle">VRAM</text>
<polygon points="705.53,427.09 711.87,427.91 707.26,438.60" fill="#000" stroke="#000" stroke-width="2.6" stroke-linejoin="miter"/>
<line x1="707.26" y1="438.60" x2="706.30" y2="446.00" stroke="#000" stroke-width="2.8"/>
<rect x="698.20" y="414.20" width="21.60" height="14.60" rx="1.8" fill="#000" stroke="#000" stroke-width="4.4" stroke-linejoin="round"/>
<polygon points="705.53,427.09 711.87,427.91 707.38,437.71" fill="#fff"/>
<rect x="698.20" y="414.20" width="21.10" height="14.20" rx="1.8" fill="#fff"/>
<text transform="translate(708.10 425.20) scale(0.84 1)" x="0.65" y="0" font-size="13.5" letter-spacing="1.3" text-anchor="middle">E4</text>
<rect x="703.00" y="445.70" width="6.00" height="19.80" fill="#000" />
<rect x="704.40" y="447.20" width="3.30" height="5.00" fill="#fff" />
<rect x="705.30" y="448.70" width="1.50" height="2.30" fill="#000" />
<rect x="704.40" y="454.00" width="3.30" height="1.30" fill="#fff" />
<rect x="704.40" y="458.30" width="3.30" height="1.50" fill="#fff" />
<rect x="704.40" y="463.20" width="3.30" height="1.30" fill="#fff" />
<polygon points="411.59,389.91 414.41,387.09 419.60,395.10" fill="#000" stroke="#000" stroke-width="2.6" stroke-linejoin="miter"/>
<line x1="419.60" y1="395.10" x2="424.00" y2="399.50" stroke="#000" stroke-width="2.8"/>
<rect x="386.20" y="377.20" width="29.60" height="13.10" rx="1.8" fill="#000" stroke="#000" stroke-width="4.4" stroke-linejoin="round"/>
<polygon points="411.59,389.91 414.41,387.09 419.07,394.57" fill="#fff"/>
<rect x="386.20" y="377.20" width="29.10" height="12.70" rx="1.8" fill="#fff"/>
<text transform="translate(400.10 387.45) scale(0.84 1)" x="0.65" y="0" font-size="13.5" letter-spacing="1.3" text-anchor="middle">J25</text>
<polygon points="449.60,379.16 456.40,378.84 453.60,391.60" fill="#000" stroke="#000" stroke-width="2.6" stroke-linejoin="miter"/>
<line x1="453.60" y1="391.60" x2="454.00" y2="400.00" stroke="#000" stroke-width="2.8"/>
<rect x="441.00" y="367.20" width="28.10" height="13.00" rx="1.8" fill="#000" stroke="#000" stroke-width="4.4" stroke-linejoin="round"/>
<polygon points="449.60,379.16 456.40,378.84 453.55,390.59" fill="#fff"/>
<rect x="441.00" y="367.20" width="27.60" height="12.60" rx="1.8" fill="#fff"/>
<text transform="translate(454.15 377.40) scale(0.84 1)" x="0.65" y="0" font-size="13.5" letter-spacing="1.3" text-anchor="middle">J24</text>
<polygon points="494.62,387.06 497.38,389.94 488.80,395.40" fill="#000" stroke="#000" stroke-width="2.6" stroke-linejoin="miter"/>
<line x1="488.80" y1="395.40" x2="484.00" y2="400.00" stroke="#000" stroke-width="2.8"/>
<rect x="493.20" y="377.20" width="29.60" height="13.10" rx="1.8" fill="#000" stroke="#000" stroke-width="4.4" stroke-linejoin="round"/>
<polygon points="494.62,387.06 497.38,389.94 489.38,394.85" fill="#fff"/>
<rect x="493.20" y="377.20" width="29.10" height="12.70" rx="1.8" fill="#fff"/>
<text transform="translate(507.10 387.45) scale(0.84 1)" x="0.65" y="0" font-size="13.5" letter-spacing="1.3" text-anchor="middle">J22</text>
<rect x="418.00" y="400.50" width="13.00" height="101.00" fill="#000" />
<rect x="419.20" y="406.55" width="10.60" height="1.50" fill="#fff" />
<rect x="419.20" y="412.39" width="10.60" height="1.50" fill="#fff" />
<rect x="419.20" y="418.23" width="10.60" height="1.50" fill="#fff" />
<rect x="419.20" y="424.07" width="10.60" height="1.50" fill="#fff" />
<rect x="419.20" y="429.91" width="10.60" height="1.50" fill="#fff" />
<rect x="419.20" y="435.75" width="10.60" height="1.50" fill="#fff" />
<rect x="419.20" y="441.59" width="10.60" height="1.50" fill="#fff" />
<rect x="419.20" y="447.43" width="10.60" height="1.50" fill="#fff" />
<rect x="419.20" y="453.27" width="10.60" height="1.50" fill="#fff" />
<rect x="419.20" y="459.11" width="10.60" height="1.50" fill="#fff" />
<rect x="419.20" y="464.95" width="10.60" height="1.50" fill="#fff" />
<rect x="419.20" y="470.79" width="10.60" height="1.50" fill="#fff" />
<rect x="419.20" y="476.63" width="10.60" height="1.50" fill="#fff" />
<rect x="419.20" y="482.47" width="10.60" height="1.50" fill="#fff" />
<rect x="419.20" y="488.31" width="10.60" height="1.50" fill="#fff" />
<rect x="419.20" y="494.15" width="10.60" height="1.50" fill="#fff" />
<rect x="423.85" y="401.70" width="1.30" height="98.60" fill="#fff" />
<rect x="429.10" y="401.50" width="0.80" height="99.00" fill="#fff" />
<rect x="448.00" y="400.50" width="12.30" height="101.00" fill="#000" />
<rect x="449.20" y="406.55" width="9.90" height="1.50" fill="#fff" />
<rect x="449.20" y="412.39" width="9.90" height="1.50" fill="#fff" />
<rect x="449.20" y="418.23" width="9.90" height="1.50" fill="#fff" />
<rect x="449.20" y="424.07" width="9.90" height="1.50" fill="#fff" />
<rect x="449.20" y="429.91" width="9.90" height="1.50" fill="#fff" />
<rect x="449.20" y="435.75" width="9.90" height="1.50" fill="#fff" />
<rect x="449.20" y="441.59" width="9.90" height="1.50" fill="#fff" />
<rect x="449.20" y="447.43" width="9.90" height="1.50" fill="#fff" />
<rect x="449.20" y="453.27" width="9.90" height="1.50" fill="#fff" />
<rect x="449.20" y="459.11" width="9.90" height="1.50" fill="#fff" />
<rect x="449.20" y="464.95" width="9.90" height="1.50" fill="#fff" />
<rect x="449.20" y="470.79" width="9.90" height="1.50" fill="#fff" />
<rect x="449.20" y="476.63" width="9.90" height="1.50" fill="#fff" />
<rect x="449.20" y="482.47" width="9.90" height="1.50" fill="#fff" />
<rect x="449.20" y="488.31" width="9.90" height="1.50" fill="#fff" />
<rect x="449.20" y="494.15" width="9.90" height="1.50" fill="#fff" />
<rect x="453.50" y="401.70" width="1.30" height="98.60" fill="#fff" />
<rect x="478.00" y="400.00" width="12.30" height="118.30" fill="#000" />
<rect x="479.20" y="406.55" width="9.90" height="1.50" fill="#fff" />
<rect x="479.20" y="412.39" width="9.90" height="1.50" fill="#fff" />
<rect x="479.20" y="418.23" width="9.90" height="1.50" fill="#fff" />
<rect x="479.20" y="424.07" width="9.90" height="1.50" fill="#fff" />
<rect x="479.20" y="429.91" width="9.90" height="1.50" fill="#fff" />
<rect x="479.20" y="435.75" width="9.90" height="1.50" fill="#fff" />
<rect x="479.20" y="441.59" width="9.90" height="1.50" fill="#fff" />
<rect x="479.20" y="447.43" width="9.90" height="1.50" fill="#fff" />
<rect x="479.20" y="453.27" width="9.90" height="1.50" fill="#fff" />
<rect x="479.20" y="459.11" width="9.90" height="1.50" fill="#fff" />
<rect x="479.20" y="464.95" width="9.90" height="1.50" fill="#fff" />
<rect x="479.20" y="470.79" width="9.90" height="1.50" fill="#fff" />
<rect x="479.20" y="476.63" width="9.90" height="1.50" fill="#fff" />
<rect x="479.20" y="482.47" width="9.90" height="1.50" fill="#fff" />
<rect x="479.20" y="488.31" width="9.90" height="1.50" fill="#fff" />
<rect x="479.20" y="494.15" width="9.90" height="1.50" fill="#fff" />
<rect x="479.20" y="499.99" width="9.90" height="1.50" fill="#fff" />
<rect x="479.20" y="505.83" width="9.90" height="1.50" fill="#fff" />
<rect x="479.20" y="511.67" width="9.90" height="1.50" fill="#fff" />
<rect x="483.50" y="401.20" width="1.30" height="115.90" fill="#fff" />
<rect x="479.10" y="401.00" width="0.60" height="116.30" fill="#fff" />
<polygon points="395.45,553.88 392.55,551.12 400.30,545.90" fill="#000" stroke="#000" stroke-width="2.6" stroke-linejoin="miter"/>
<line x1="400.30" y1="545.90" x2="404.50" y2="541.50" stroke="#000" stroke-width="2.8"/>
<rect x="367.20" y="550.70" width="29.60" height="13.70" rx="1.8" fill="#000" stroke="#000" stroke-width="4.4" stroke-linejoin="round"/>
<polygon points="395.45,553.88 392.55,551.12 399.80,546.43" fill="#fff"/>
<rect x="367.20" y="550.70" width="29.10" height="13.30" rx="1.8" fill="#fff"/>
<text transform="translate(381.10 561.25) scale(0.84 1)" x="0.65" y="0" font-size="13.5" letter-spacing="1.3" text-anchor="middle">J26</text>
<rect x="392.50" y="534.20" width="25.20" height="6.40" fill="#fff" stroke="#000" stroke-width="1"/>
<rect x="394.00" y="535.60" width="4.40" height="5.40" fill="#000" />
<rect x="399.50" y="535.60" width="5.10" height="5.40" fill="#000" />
<rect x="405.80" y="535.60" width="4.30" height="5.40" fill="#000" />
<rect x="411.40" y="535.60" width="4.40" height="5.40" fill="#000" />
<polygon points="494.87,546.04 492.13,548.96 487.56,541.92" fill="#000" stroke="#000" stroke-width="2.6" stroke-linejoin="miter"/>
<line x1="487.56" y1="541.92" x2="483.60" y2="538.20" stroke="#000" stroke-width="2.8"/>
<rect x="492.20" y="546.00" width="30.60" height="14.60" rx="1.8" fill="#000" stroke="#000" stroke-width="4.4" stroke-linejoin="round"/>
<polygon points="494.87,546.04 492.13,548.96 488.04,542.37" fill="#fff"/>
<rect x="492.20" y="546.00" width="30.10" height="14.20" rx="1.8" fill="#fff"/>
<text transform="translate(506.60 557.00) scale(0.84 1)" x="0.65" y="0" font-size="13.5" letter-spacing="1.3" text-anchor="middle">J27</text>
<rect x="456.50" y="534.20" width="25.30" height="6.40" fill="#fff" stroke="#000" stroke-width="1"/>
<rect x="458.40" y="535.60" width="3.30" height="5.40" fill="#000" />
<rect x="461.70" y="539.30" width="8.50" height="1.70" fill="#000" />
<rect x="470.20" y="535.60" width="4.30" height="5.40" fill="#000" />
<rect x="475.50" y="535.60" width="4.50" height="5.40" fill="#000" />
<polygon points="118,448 161.5,448 161.5,449.5 163.5,449.5 163.5,451 165.2,451 165.2,494.5 163.5,494.5 163.5,496.5 162,496.5 162,498 120,498 120,496 115,496 115,453 116.3,453 116.3,450 118,450" fill="#000"/>
<polygon points="222.5,436.6 279.5,436.6 279.5,438 282.5,438 282.5,440.3 285.2,440.3 285.2,497.5 282.5,500 282.5,503 223.5,503 223.5,500.5 218.9,499.5 218.9,440.8 221,440.8 221,439 222.5,439" fill="#000"/>
<rect x="224.20" y="436.60" width="1.00" height="2.80" fill="#fff" />
<rect x="236.10" y="436.60" width="1.00" height="2.80" fill="#fff" />
<rect x="239.30" y="436.60" width="1.00" height="2.80" fill="#fff" />
<rect x="241.70" y="436.60" width="1.00" height="2.80" fill="#fff" />
<rect x="252.80" y="436.60" width="1.00" height="2.80" fill="#fff" />
<rect x="256.00" y="436.60" width="1.00" height="2.80" fill="#fff" />
<rect x="259.10" y="436.60" width="1.00" height="2.80" fill="#fff" />
<rect x="270.00" y="436.60" width="1.00" height="2.80" fill="#fff" />
<rect x="273.10" y="436.60" width="1.00" height="2.80" fill="#fff" />
<rect x="276.10" y="436.60" width="1.00" height="2.80" fill="#fff" />
<rect x="226.30" y="500.30" width="1.00" height="2.70" fill="#fff" />
<rect x="229.50" y="500.30" width="1.00" height="2.70" fill="#fff" />
<rect x="241.00" y="500.30" width="1.00" height="2.70" fill="#fff" />
<rect x="244.00" y="500.30" width="1.00" height="2.70" fill="#fff" />
<rect x="247.00" y="500.30" width="1.00" height="2.70" fill="#fff" />
<rect x="258.00" y="500.30" width="1.00" height="2.70" fill="#fff" />
<rect x="261.20" y="500.30" width="1.00" height="2.70" fill="#fff" />
<rect x="264.00" y="500.30" width="1.00" height="2.70" fill="#fff" />
<rect x="277.90" y="500.30" width="1.00" height="2.70" fill="#fff" />
<rect x="218.80" y="442.10" width="2.80" height="1.00" fill="#fff" />
<rect x="218.80" y="444.90" width="2.80" height="1.00" fill="#fff" />
<rect x="218.80" y="447.70" width="2.80" height="1.00" fill="#fff" />
<rect x="218.80" y="461.70" width="2.80" height="1.00" fill="#fff" />
<rect x="218.80" y="464.90" width="2.80" height="1.00" fill="#fff" />
<rect x="218.80" y="467.90" width="2.80" height="1.00" fill="#fff" />
<rect x="218.80" y="478.80" width="2.80" height="1.00" fill="#fff" />
<rect x="218.80" y="481.60" width="2.80" height="1.00" fill="#fff" />
<rect x="218.80" y="484.70" width="2.80" height="1.00" fill="#fff" />
<rect x="282.30" y="447.70" width="3.20" height="1.00" fill="#fff" />
<rect x="282.30" y="450.50" width="3.20" height="1.00" fill="#fff" />
<rect x="282.30" y="453.30" width="3.20" height="1.00" fill="#fff" />
<rect x="282.30" y="456.50" width="3.20" height="1.00" fill="#fff" />
<rect x="282.30" y="467.90" width="3.20" height="1.00" fill="#fff" />
<rect x="282.30" y="470.70" width="3.20" height="1.00" fill="#fff" />
<rect x="282.30" y="473.50" width="3.20" height="1.00" fill="#fff" />
<rect x="282.30" y="484.40" width="3.20" height="1.00" fill="#fff" />
<rect x="282.30" y="487.50" width="3.20" height="1.00" fill="#fff" />
<rect x="282.30" y="490.50" width="3.20" height="1.00" fill="#fff" />
<polygon points="72.59,553.09 75.41,555.91 67.40,561.10" fill="#000" stroke="#000" stroke-width="2.6" stroke-linejoin="miter"/>
<line x1="67.40" y1="561.10" x2="63.00" y2="565.50" stroke="#000" stroke-width="2.8"/>
<rect x="71.40" y="542.40" width="30.00" height="14.00" rx="1.8" fill="#000" stroke="#000" stroke-width="4.4" stroke-linejoin="round"/>
<polygon points="72.59,553.09 75.41,555.91 67.93,560.57" fill="#fff"/>
<rect x="71.40" y="542.40" width="29.50" height="13.60" rx="1.8" fill="#fff"/>
<text transform="translate(85.50 553.10) scale(0.84 1)" x="0.65" y="0" font-size="13.5" letter-spacing="1.3" text-anchor="middle">J29</text>
<rect x="49.20" y="566.00" width="4.20" height="22.00" fill="#000" />
<rect x="54.85" y="566.00" width="4.20" height="22.00" fill="#000" />
<rect x="60.50" y="566.00" width="4.20" height="22.00" fill="#000" />
<rect x="66.15" y="566.00" width="4.20" height="22.00" fill="#000" />
<rect x="71.80" y="566.00" width="4.20" height="22.00" fill="#000" />
<rect x="47.50" y="571.50" width="30.20" height="5.20" fill="#fff" stroke="#000" stroke-width="1"/>
</svg>
</body></html>
